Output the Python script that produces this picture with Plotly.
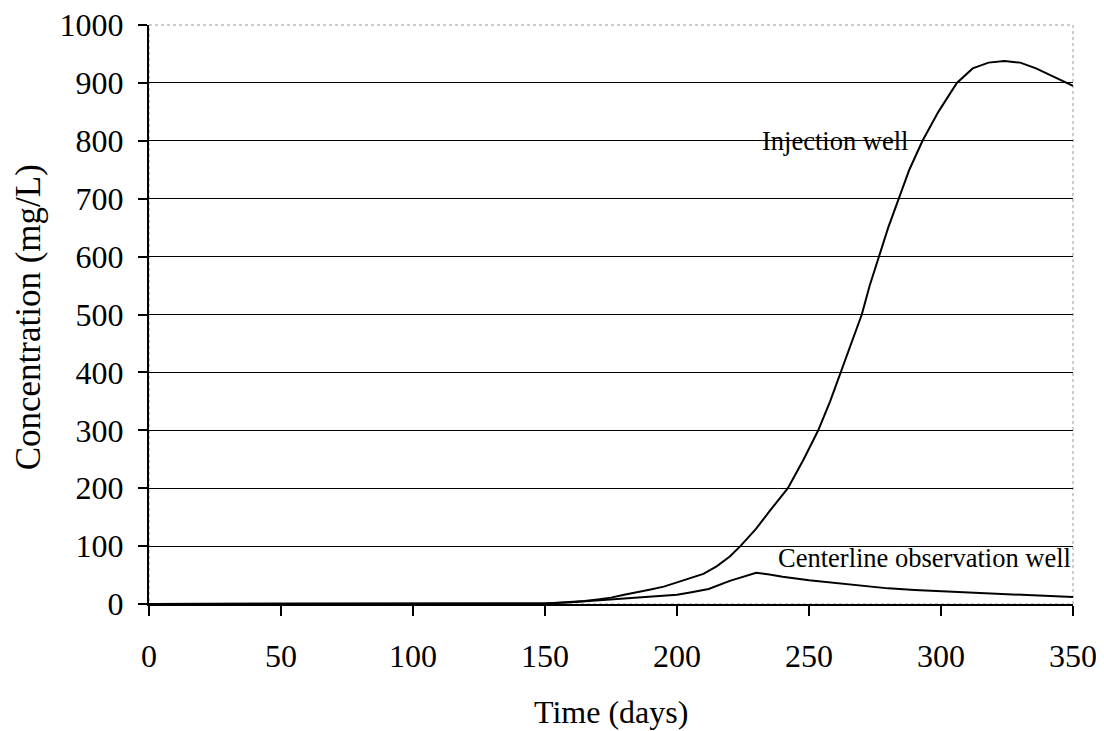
import plotly.graph_objects as go

# Injection well concentration (days, mg/L)
inj_days = [0, 50, 100, 145, 150, 155, 160, 165, 170, 175, 180, 185, 190, 195, 200,
            205, 210, 215, 220, 224, 230, 235, 242, 248, 253.5, 258, 262, 266, 270,
            273, 276.6, 280, 284, 288, 293, 299, 306, 312, 318, 324, 330, 336, 342, 350]
inj_conc = [0, 0, 0, 0, 1, 2, 3, 5, 8, 11, 16, 20, 25, 30, 37,
            44, 52, 65, 82, 100, 130, 160, 200, 250, 300, 350, 400, 450, 500,
            550, 600, 650, 700, 750, 800, 850, 900, 925, 935, 938, 935, 925, 912, 895]

# Centerline observation well
obs_days = [0, 50, 100, 145, 150, 160, 170, 180, 190, 200, 205, 212, 220, 225, 230,
            235, 240, 250, 260, 270, 280, 290, 300, 310, 320, 330, 340, 350]
obs_conc = [0, 0, 0, 0, 1, 3, 6, 9, 12, 16, 20, 26, 40, 47, 54,
            51, 47, 41, 36, 31, 27, 24, 22, 19, 17, 15, 14, 12]

FONT = "Liberation Serif, Times New Roman, serif"

fig = go.Figure()
fig.add_trace(go.Scatter(x=inj_days, y=inj_conc, mode="lines",
                         line=dict(color="black", width=2), name="Injection well"))
fig.add_trace(go.Scatter(x=obs_days, y=obs_conc, mode="lines",
                         line=dict(color="black", width=2), name="Centerline observation well"))

# curve labels
fig.add_annotation(x=260, y=800, text="Injection well", showarrow=False,
                   font=dict(size=26.5, color="black", family=FONT))
fig.add_annotation(x=350, y=79, text="Centerline observation well", showarrow=False,
                   xanchor="right", font=dict(size=26.5, color="black", family=FONT))

# axis titles placed by hand
fig.add_annotation(xref="paper", yref="paper", x=0.5, y=-0.1865, yanchor="middle",
                   text="Time (days)", showarrow=False,
                   font=dict(size=32, color="black", family=FONT))
fig.add_annotation(xref="paper", yref="paper", x=-0.131, y=0.495, xanchor="center",
                   yanchor="middle", textangle=-90,
                   text="Concentration (mg/L)", showarrow=False,
                   font=dict(size=35, color="black", family=FONT))

# gray dotted frame on top / right
fig.add_shape(type="rect", xref="paper", yref="paper", x0=0, y0=0, x1=1, y1=1,
              line=dict(color="#999999", width=1, dash="dot"), layer="below")

# page body adds an 8px offset, so the figure is a bit smaller than the window
fig.update_layout(
    width=1096, height=723,
    margin=dict(l=141, r=31, t=17, b=127),
    paper_bgcolor="white", plot_bgcolor="white",
    showlegend=False,
    font=dict(family=FONT, size=32, color="black"),
    xaxis=dict(
        range=[0, 350], dtick=50, tick0=0,
        showgrid=False, zeroline=False, automargin=False,
        showline=True, linecolor="black", linewidth=2,
        ticks="outside", ticklen=10, tickwidth=2, tickcolor="black",
        ticklabelstandoff=13, ticklabeloverflow="allow",
    ),
    yaxis=dict(
        range=[0, 1000], dtick=100, tick0=0,
        showgrid=True, gridcolor="black", gridwidth=1,
        zeroline=False, automargin=False,
        showline=True, linecolor="black", linewidth=2,
        ticks="outside", ticklen=9, tickwidth=2, tickcolor="black",
        ticklabelstandoff=8, ticklabeloverflow="allow",
    ),
)

fig.write_html("out.html")
